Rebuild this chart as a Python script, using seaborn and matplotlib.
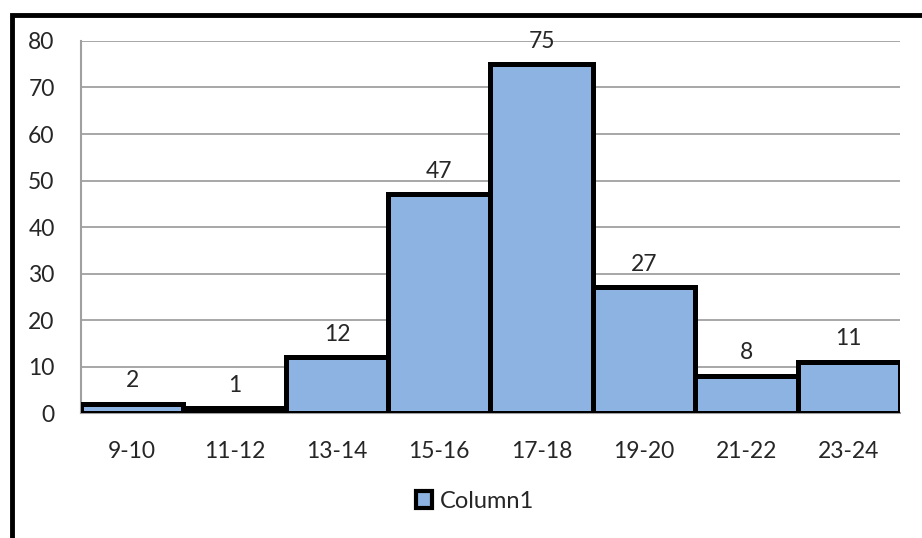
import matplotlib
matplotlib.use("Agg")
import matplotlib.pyplot as plt
import matplotlib.patches as mpatches
import pandas as pd
import seaborn as sns

# histogram bins and counts
bins = ["9-10", "11-12", "13-14", "15-16", "17-18", "19-20", "21-22", "23-24"]
counts = [2, 1, 12, 47, 75, 27, 8, 11]
series_name = "Column1"

df = pd.DataFrame({"bin": bins, "count": counts})

sns.set_style("white")
plt.rcParams["font.family"] = ["Lato", "DejaVu Sans"]

fig = plt.figure(figsize=(9.22, 5.38), dpi=100)
ax = fig.add_axes([0.0879, 0.2323, 0.8881, 0.6915])

bar_color = "#8DB3E2"
sns.barplot(data=df, x="bin", y="count", color=bar_color, width=1.0,
            edgecolor="black", linewidth=3.6, saturation=1, ax=ax, zorder=3)

fs = 16.5
ax.set_ylim(0, 80)
ax.set_xlim(-0.5, len(bins) - 0.5)
ax.set_yticks(range(0, 81, 10))
ax.yaxis.grid(True, color="#A0A0A0", linewidth=1.3, zorder=0)
ax.set_axisbelow(True)
ax.set_xlabel("")
ax.set_ylabel("")
ax.tick_params(axis="both", length=0, labelsize=fs)
ax.tick_params(axis="x", pad=20)
ax.tick_params(axis="y", pad=19)
for side in ["top", "right"]:
    ax.spines[side].set_visible(False)
for side in ["left", "bottom"]:
    ax.spines[side].set_color("#A0A0A0")
    ax.spines[side].set_linewidth(1.5)

for c in ax.containers:
    ax.bar_label(c, padding=9, fontsize=fs)

handle = mpatches.Patch(facecolor=bar_color, edgecolor="black", linewidth=3)
fig.legend([handle], [series_name], loc="center", bbox_to_anchor=(0.515, 0.068),
           frameon=False, fontsize=fs + 0.5, handlelength=0.7, handleheight=0.7,
           handletextpad=0.3)

# outer chart border (only top and left edges fall inside the image)
border = mpatches.Rectangle((0.013, -0.05), 1.1, 0.023 + 0.05 + 0.95,
                            transform=fig.transFigure, fill=False,
                            edgecolor="black", linewidth=3.5)
fig.patches.append(border)

fig.savefig("out.png", dpi=100)
